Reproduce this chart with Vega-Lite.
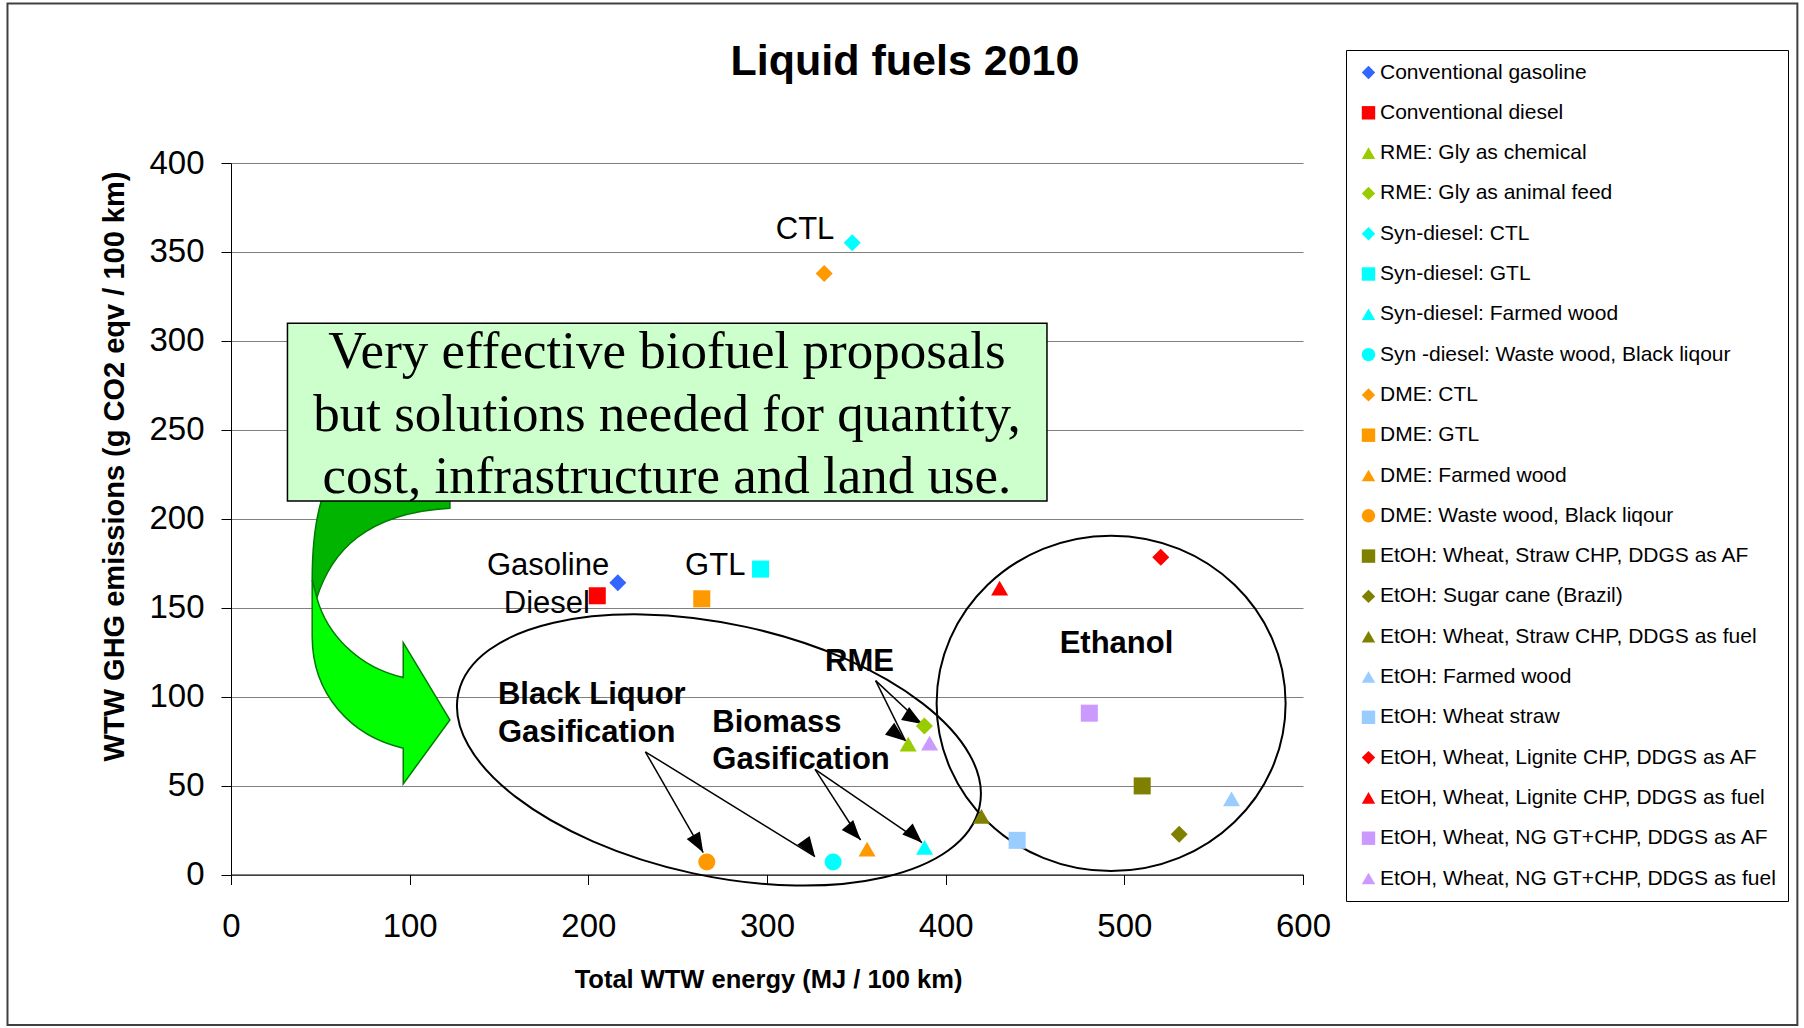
{
  "$schema": "https://vega.github.io/schema/vega-lite/v6.json",
  "width": 1072,
  "height": 711.5,
  "autosize": {"type": "none"},
  "padding": {"left": 231, "top": 163, "right": 501, "bottom": 153.5},
  "background": "white",
  "title": {"text": "Liquid fuels 2010", "fontSize": 43, "fontWeight": "bold", "font": "Liberation Sans", "anchor": "middle", "dx": 138, "dy": 81.5, "color": "black", "offset": 0},
  "config": {
    "view": {"stroke": null},
    "font": "Liberation Sans"
  },
  "datasets": {
    "points": [
      {"series": "Conventional gasoline", "x": 216.5, "y": 164},
      {"series": "Conventional diesel", "x": 205, "y": 156.7},
      {"series": "RME: Gly as chemical", "x": 379, "y": 73.3},
      {"series": "RME: Gly as animal feed", "x": 388.1, "y": 83.5},
      {"series": "Syn-diesel: CTL", "x": 347.7, "y": 355.2},
      {"series": "Syn-diesel: GTL", "x": 296.4, "y": 171.7},
      {"series": "Syn-diesel: Farmed wood", "x": 388.2, "y": 15.3},
      {"series": "Syn -diesel: Waste wood, Black liqour", "x": 337, "y": 7},
      {"series": "DME: CTL", "x": 332, "y": 337.9},
      {"series": "DME: GTL", "x": 263.5, "y": 155},
      {"series": "DME: Farmed wood", "x": 356, "y": 14.2},
      {"series": "DME: Waste wood, Black liqour", "x": 266.3, "y": 7},
      {"series": "EtOH: Wheat, Straw CHP, DDGS as AF", "x": 510, "y": 49.8},
      {"series": "EtOH: Sugar cane (Brazil)", "x": 530.7, "y": 22.6},
      {"series": "EtOH: Wheat, Straw CHP, DDGS as fuel", "x": 420, "y": 32.7},
      {"series": "EtOH: Farmed wood", "x": 560, "y": 42.5},
      {"series": "EtOH: Wheat straw", "x": 440, "y": 19.2},
      {"series": "EtOH, Wheat, Lignite CHP, DDGS as AF", "x": 520.4, "y": 178.4},
      {"series": "EtOH, Wheat, Lignite CHP, DDGS as fuel", "x": 430.2, "y": 161},
      {"series": "EtOH, Wheat, NG GT+CHP, DDGS as AF", "x": 480.4, "y": 90.7},
      {"series": "EtOH, Wheat, NG GT+CHP, DDGS as fuel", "x": 391, "y": 73.8}
    ],
    "labels": [
      {"text": "CTL", "x": 337.7, "y": 362.1},
      {"text": "Gasoline", "x": 211.7, "y": 173.4},
      {"text": "Diesel", "x": 200.9, "y": 152},
      {"text": "GTL", "x": 287.9, "y": 173.4}
    ],
    "boldleft": [
      {"text": "Black Liquor", "x": 149.4, "y": 101},
      {"text": "Gasification", "x": 149.4, "y": 79.8},
      {"text": "Biomass", "x": 269.4, "y": 85},
      {"text": "Gasification", "x": 269.4, "y": 64.4}
    ],
    "boldcenter": [
      {"text": "RME", "x": 351.8, "y": 119.7},
      {"text": "Ethanol", "x": 495.6, "y": 129.6}
    ],
    "boxtext": [
      {"text": "Very effective biofuel proposals", "x": 244, "y": 293.7},
      {"text": "but solutions needed for quantity,", "x": 244, "y": 258.3},
      {"text": "cost, infrastructure and land use.", "x": 244, "y": 223.2}
    ],
    "arrows": [
      {"arrow": "a1", "x": 231.9, "y": 69.0, "x2": 264.3, "y2": 12.3},
      {"arrow": "a2", "x": 231.9, "y": 69.0, "x2": 326.9, "y2": 10.0},
      {"arrow": "a3", "x": 326.9, "y": 59.1, "x2": 352.4, "y2": 19.4},
      {"arrow": "a4", "x": 326.9, "y": 59.1, "x2": 386.8, "y2": 17.9},
      {"arrow": "a5", "x": 360.8, "y": 109.0, "x2": 377.5, "y2": 75.1},
      {"arrow": "a6", "x": 360.8, "y": 109.0, "x2": 386.8, "y2": 84.6}
    ]
  },
  "layer": [
    {
      "data": {"name": "points"},
      "mark": {"type": "point", "opacity": 0, "size": 1},
      "encoding": {
        "x": {"field": "x", "type": "quantitative", "scale": {"domain": [0, 600], "nice": false, "zero": false},
          "axis": {"title": "Total WTW energy (MJ / 100 km)", "values": [0, 100, 200, 300, 400, 500, 600], "grid": false, "labelFlush": false, "labelFont": "Liberation Sans", "labelFontSize": 33, "labelPadding": 26, "labelColor": "black", "tickColor": "black", "domainColor": "black", "tickSize": 10, "titleFont": "Liberation Sans", "titleFontSize": 25.5, "titleFontWeight": "bold", "titleColor": "black", "titleX": 537, "titleY": 105, "titleBaseline": "middle", "titleAlign": "center"}},
        "y": {"field": "y", "type": "quantitative", "scale": {"domain": [0, 400], "nice": false, "zero": false},
          "axis": {"title": "WTW GHG emissions (g CO2 eqv / 100 km)", "values": [0, 50, 100, 150, 200, 250, 300, 350, 400], "grid": true, "gridColor": "#808080", "gridWidth": 1.2, "labelFlush": false, "labelFont": "Liberation Sans", "labelFontSize": 33, "labelPadding": 17, "labelColor": "black", "tickColor": "black", "domainColor": "black", "tickSize": 10, "titleFont": "Liberation Sans", "titleFontSize": 29, "titleFontWeight": "bold", "titleColor": "black", "titleAngle": 270, "titleX": -117, "titleY": 303, "titleBaseline": "middle", "titleAlign": "center"}}
      }
    },
    {
      "data": {"values": [{"x": -125.1, "y": 489.7, "x2": 876.7, "y2": -84.6}]},
      "mark": {"type": "rect", "fillOpacity": 0, "stroke": "#404040", "strokeWidth": 2},
      "encoding": {"x": {"field": "x", "type": "quantitative"}, "y": {"field": "y", "type": "quantitative"}, "x2": {"field": "x2"}, "y2": {"field": "y2"}}
    },
    {
      "data": {"values": [{"x": 83.9, "y": 130.8}]},
      "mark": {"type": "point", "filled": true, "fill": "#00B400", "stroke": "#007A00", "strokeWidth": 1.5, "opacity": 1, "size": 90000,
        "shape": "M -0.395 -1.0 L -0.395 -0.947 C -0.44 -0.8 -0.458 -0.6 -0.458 -0.413 L -0.427 -0.293 C -0.33 -0.6 -0.1 -0.86 0.46 -0.891 L 0.46 -1.0 Z"},
      "encoding": {"x": {"field": "x", "type": "quantitative"}, "y": {"field": "y", "type": "quantitative"}}
    },
    {
      "data": {"values": [{"x": 83.9, "y": 130.8}]},
      "mark": {"type": "point", "filled": true, "fill": "#00FF00", "stroke": "#007A00", "strokeWidth": 1.5, "opacity": 1, "size": 90000,
        "shape": "M -0.458 -0.413 L -0.458 -0.035 C -0.458 0.35 -0.2 0.63 0.149 0.709 L 0.149 0.947 L 0.46 0.52 L 0.149 0.005 L 0.149 0.238 C -0.15 0.17 -0.36 -0.05 -0.427 -0.293 Z"},
      "encoding": {"x": {"field": "x", "type": "quantitative"}, "y": {"field": "y", "type": "quantitative"}}
    },
    {
      "data": {"values": [{"x": 31.6, "y": 309.9, "x2": 456.7, "y2": 210}]},
      "mark": {"type": "rect", "fill": "#CCFFCC", "stroke": "black", "strokeWidth": 1.5},
      "encoding": {"x": {"field": "x", "type": "quantitative"}, "y": {"field": "y", "type": "quantitative"}, "x2": {"field": "x2"}, "y2": {"field": "y2"}}
    },
    {
      "data": {"name": "boxtext"},
      "mark": {"type": "text", "font": "Liberation Serif", "fontSize": 53, "align": "center", "baseline": "middle", "color": "black"},
      "encoding": {"x": {"field": "x", "type": "quantitative"}, "y": {"field": "y", "type": "quantitative"}, "text": {"field": "text"}}
    },
    {
      "data": {"values": [{"x": 273.1, "y": 70.0}]},
      "mark": {"type": "point", "filled": false, "stroke": "black", "strokeWidth": 2, "opacity": 1, "size": 284516, "angle": 12.3,
        "shape": "M 1 0 C 1 0.261 0.5523 0.4725 0 0.4725 C -0.5523 0.4725 -1 0.261 -1 0 C -1 -0.261 -0.5523 -0.4725 0 -0.4725 C 0.5523 -0.4725 1 -0.261 1 0 Z"},
      "encoding": {"x": {"field": "x", "type": "quantitative"}, "y": {"field": "y", "type": "quantitative"}}
    },
    {
      "data": {"values": [{"x": 492.6, "y": 96.2}]},
      "mark": {"type": "point", "filled": false, "stroke": "black", "strokeWidth": 2, "opacity": 1, "size": 121801,
        "shape": "M 1 0 C 1 0.5308 0.5523 0.961 0 0.961 C -0.5523 0.961 -1 0.5308 -1 0 C -1 -0.5308 -0.5523 -0.961 0 -0.961 C 0.5523 -0.961 1 -0.5308 1 0 Z"},
      "encoding": {"x": {"field": "x", "type": "quantitative"}, "y": {"field": "y", "type": "quantitative"}}
    },
    {
      "data": {"name": "arrows"},
      "mark": {"type": "rule", "color": "black", "strokeWidth": 1.5},
      "encoding": {"x": {"field": "x", "type": "quantitative"}, "y": {"field": "y", "type": "quantitative"}, "x2": {"field": "x2"}, "y2": {"field": "y2"}}
    },
    {
      "data": {"name": "arrows"},
      "mark": {"type": "point", "filled": true, "color": "black", "opacity": 1, "size": 1600, "shape": "M 0 0 L -0.38 -1 L 0.38 -1 Z"},
      "encoding": {
        "x": {"field": "x2", "type": "quantitative"},
        "y": {"field": "y2", "type": "quantitative"},
        "angle": {"field": "arrow", "type": "ordinal", "scale": {"domain": ["a1", "a2", "a3", "a4", "a5", "a6"], "range": [330.2, 301.8, 327.1, 304.4, 333.7, 313.0]}, "legend": null}
      }
    },
    {
      "data": {"name": "points"},
      "mark": {"type": "point", "filled": true, "opacity": 1, "size": 290, "strokeWidth": 0},
      "encoding": {
        "x": {"field": "x", "type": "quantitative"},
        "y": {"field": "y", "type": "quantitative"},
        "color": {"field": "series", "type": "nominal",
          "scale": {"domain": ["Conventional gasoline", "Conventional diesel", "RME: Gly as chemical", "RME: Gly as animal feed", "Syn-diesel: CTL", "Syn-diesel: GTL", "Syn-diesel: Farmed wood", "Syn -diesel: Waste wood, Black liqour", "DME: CTL", "DME: GTL", "DME: Farmed wood", "DME: Waste wood, Black liqour", "EtOH: Wheat, Straw CHP, DDGS as AF", "EtOH: Sugar cane (Brazil)", "EtOH: Wheat, Straw CHP, DDGS as fuel", "EtOH: Farmed wood", "EtOH: Wheat straw", "EtOH, Wheat, Lignite CHP, DDGS as AF", "EtOH, Wheat, Lignite CHP, DDGS as fuel", "EtOH, Wheat, NG GT+CHP, DDGS as AF", "EtOH, Wheat, NG GT+CHP, DDGS as fuel"],
            "range": ["#3366FF", "#FF0000", "#99CC00", "#99CC00", "#00FFFF", "#00FFFF", "#00FFFF", "#00FFFF", "#FF9900", "#FF9900", "#FF9900", "#FF9900", "#808000", "#808000", "#808000", "#99CCFF", "#99CCFF", "#FF0000", "#FF0000", "#CC99FF", "#CC99FF"]},
          "legend": {"orient": "none", "legendX": 1115, "legendY": -113, "title": null, "labelFont": "Liberation Sans", "labelFontSize": 21, "labelColor": "black", "labelLimit": 0, "symbolSize": 180, "symbolStrokeWidth": 0, "rowPadding": 18.3, "padding": 12, "labelOffset": 1, "strokeColor": "black", "fillColor": "white"}},
        "shape": {"field": "series", "type": "nominal",
          "scale": {"domain": ["Conventional gasoline", "Conventional diesel", "RME: Gly as chemical", "RME: Gly as animal feed", "Syn-diesel: CTL", "Syn-diesel: GTL", "Syn-diesel: Farmed wood", "Syn -diesel: Waste wood, Black liqour", "DME: CTL", "DME: GTL", "DME: Farmed wood", "DME: Waste wood, Black liqour", "EtOH: Wheat, Straw CHP, DDGS as AF", "EtOH: Sugar cane (Brazil)", "EtOH: Wheat, Straw CHP, DDGS as fuel", "EtOH: Farmed wood", "EtOH: Wheat straw", "EtOH, Wheat, Lignite CHP, DDGS as AF", "EtOH, Wheat, Lignite CHP, DDGS as fuel", "EtOH, Wheat, NG GT+CHP, DDGS as AF", "EtOH, Wheat, NG GT+CHP, DDGS as fuel"],
            "range": ["diamond", "square", "triangle-up", "diamond", "diamond", "square", "triangle-up", "circle", "diamond", "square", "triangle-up", "circle", "square", "diamond", "triangle-up", "triangle-up", "square", "diamond", "triangle-up", "square", "triangle-up"]},
          "legend": {"orient": "none", "legendX": 1115, "legendY": -113, "title": null, "labelFont": "Liberation Sans", "labelFontSize": 21, "labelColor": "black", "labelLimit": 0, "symbolSize": 180, "symbolStrokeWidth": 0, "rowPadding": 18.3, "padding": 12, "labelOffset": 1, "strokeColor": "black", "fillColor": "white"}}
      }
    },
    {
      "data": {"name": "labels"},
      "mark": {"type": "text", "fontSize": 31, "align": "right", "baseline": "middle", "color": "black"},
      "encoding": {"x": {"field": "x", "type": "quantitative"}, "y": {"field": "y", "type": "quantitative"}, "text": {"field": "text"}}
    },
    {
      "data": {"name": "boldleft"},
      "mark": {"type": "text", "fontSize": 31, "fontWeight": "bold", "align": "left", "baseline": "middle", "color": "black"},
      "encoding": {"x": {"field": "x", "type": "quantitative"}, "y": {"field": "y", "type": "quantitative"}, "text": {"field": "text"}}
    },
    {
      "data": {"name": "boldcenter"},
      "mark": {"type": "text", "fontSize": 31, "fontWeight": "bold", "align": "center", "baseline": "middle", "color": "black"},
      "encoding": {"x": {"field": "x", "type": "quantitative"}, "y": {"field": "y", "type": "quantitative"}, "text": {"field": "text"}}
    }
  ]
}
